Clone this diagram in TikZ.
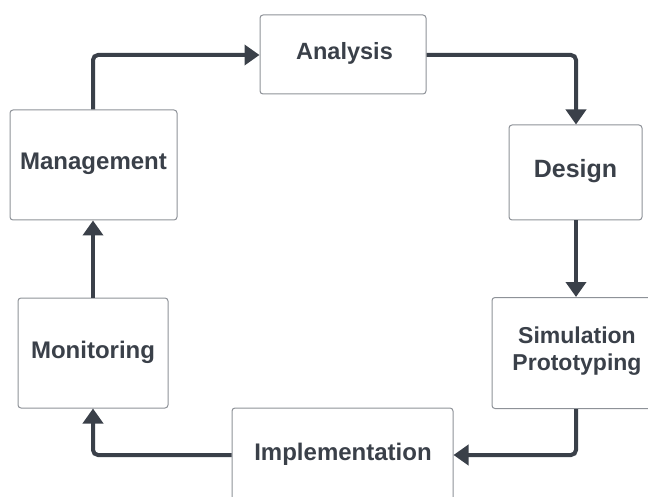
\documentclass[tikz,border=0pt]{standalone}
\usepackage{fontspec}
\setmainfont{Liberation Sans}
\usetikzlibrary{arrows.meta}
\definecolor{ink}{HTML}{3A4049}
\definecolor{edge}{HTML}{8E9298}
\tikzset{
  box/.style={draw=edge, line width=1pt, rounded corners=3pt, fill=white, inner sep=0pt},
  lbl/.style={text=ink, font=\bfseries\fontsize{24}{28}\selectfont, anchor=base, inner sep=0pt},
  flow/.style={draw=ink, line width=4pt, rounded corners=5pt, -{Triangle[width=20pt,length=15pt]}}
}
\begin{document}
\begin{tikzpicture}[x=1pt,y=-1pt]
\useasboundingbox (0,0) rectangle (648,497);
\clip (0,0) rectangle (648,497);
% boxes
\node[box, minimum width=166pt, minimum height=79pt] (ana) at (343,54.5) {};
\node[box, minimum width=133pt, minimum height=95pt] (des) at (575.5,172.5) {};
\node[box, minimum width=167pt, minimum height=111pt] (sim) at (575.5,353) {};
\node[box, minimum width=221pt, minimum height=96pt] (imp) at (342.5,456) {};
\node[box, minimum width=150pt, minimum height=110pt] (mon) at (93,353) {};
\node[box, minimum width=167pt, minimum height=110pt] (man) at (93.5,165) {};
% labels
\node[lbl, font=\bfseries\fontsize{23.5}{28}\selectfont] (tana) at (344.5,60) {Analysis};
\node[lbl, font=\bfseries\fontsize{25}{28}\selectfont] (tdes) at (575.5,178) {Design};
\node[lbl, font=\bfseries\fontsize{23}{27}\selectfont, align=center] (tsim) at (577,370) {Simulation\\Prototyping};
\node[lbl] (timp) at (343,460) {Implementation};
\node[lbl] (tmon) at (93,358) {Monitoring};
\node[lbl] (tman) at (93.5,170) {Management};
% connectors
\coordinate (c1) at (93,55);
\coordinate (c2) at (576,55);
\coordinate (c3) at (576,455);
\coordinate (c4) at (93,455);
\draw[flow] (man.north -| c1) |- (ana.west |- c1);
\draw[flow] (ana.east |- c2) -| (des.north -| c2);
\draw[flow] (des.south -| c2) -- (sim.north -| c2);
\draw[flow] (sim.south -| c3) |- (imp.east |- c3);
\draw[flow] (imp.west |- c4) -| (mon.south -| c4);
\draw[flow] (mon.north -| c4) -- (man.south -| c4);
\end{tikzpicture}
\end{document}
